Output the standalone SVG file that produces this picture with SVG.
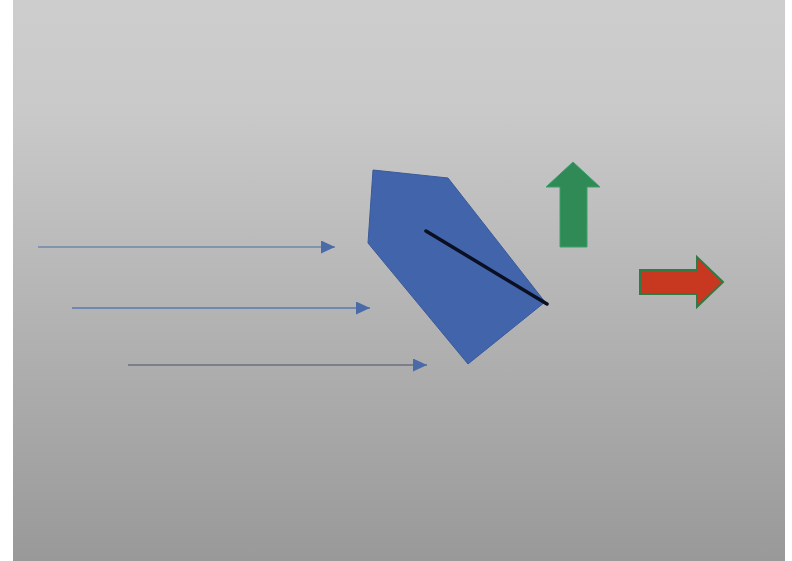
<svg xmlns="http://www.w3.org/2000/svg" width="792" height="561" viewBox="0 0 792 561">
<defs>
<linearGradient id="bg" x1="0" y1="0" x2="0" y2="1">
<stop offset="0" stop-color="#cdcdcd"/>
<stop offset="0.2" stop-color="#c9c9c9"/>
<stop offset="1" stop-color="#999999"/>
</linearGradient>
<marker id="ah" viewBox="0 0 10 10" refX="10" refY="5" markerWidth="14" markerHeight="13" markerUnits="userSpaceOnUse" orient="auto" preserveAspectRatio="none">
<path d="M0,0 L10,5 L0,10 Z" fill="#4a6aa8"/>
</marker>
</defs>
<style>
.flow{stroke-width:1.5;fill:none}
</style>
<rect x="0" y="0" width="792" height="561" fill="#ffffff"/>
<rect x="13" y="0" width="772" height="561" fill="url(#bg)"/>
<g id="connectors">
<line class="flow" x1="38" y1="247" x2="335" y2="247" stroke="#6f86a8" marker-end="url(#ah)"/>
<line class="flow" x1="72" y1="308" x2="370" y2="308" stroke="#5a78b0" marker-end="url(#ah)"/>
<line class="flow" x1="128" y1="365" x2="427" y2="365" stroke="#6a6f7c" marker-end="url(#ah)"/>
</g>
<g id="body">
<polygon points="373,170 448,178 545,302 468,364 368,243" fill="#4264aa" stroke="#3a5a9a" stroke-width="1"/>
<line x1="426" y1="231" x2="547" y2="304" stroke="#0b0f22" stroke-width="3.5" stroke-linecap="round"/>
</g>
<g id="lift">
<polygon points="573,162 600,187 587,187 587,247 560,247 560,187 546,187" fill="#2f8a55" stroke="#3aa06a" stroke-width="1"/>
</g>
<g id="drag">
<polygon points="640,270 697,270 697,257 723,282 697,307 697,294 640,294" fill="#c8371f" stroke="#2f7a45" stroke-width="2"/>
</g>
</svg>
